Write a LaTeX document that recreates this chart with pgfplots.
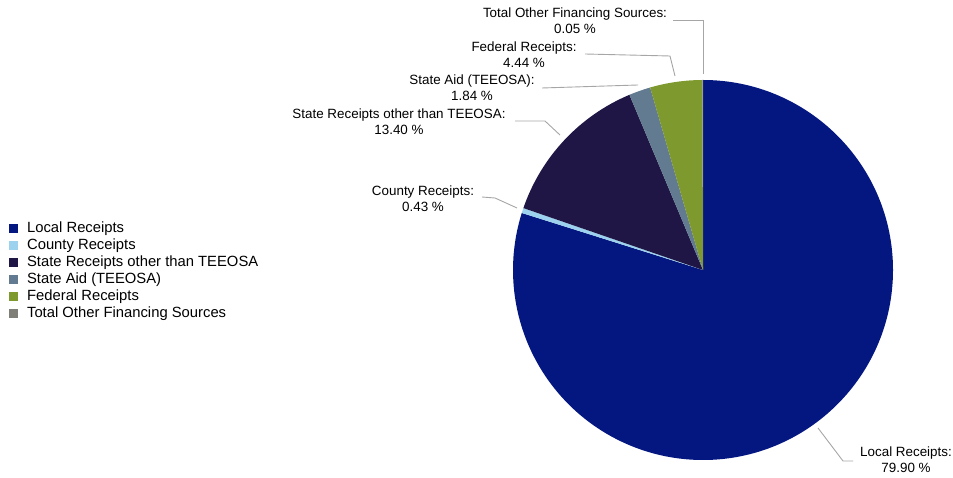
\documentclass[border=0pt]{standalone}
\usepackage{pgfplots}
\pgfplotsset{compat=1.18}
\usepackage{pgfplotstable}
\usepackage{fontspec}
\setmainfont{Liberation Sans}

\definecolor{cLocal}{HTML}{041680}
\definecolor{cCounty}{HTML}{9DD2EE}
\definecolor{cState}{HTML}{1F1645}
\definecolor{cAid}{HTML}{627B90}
\definecolor{cFed}{HTML}{7E9A2F}
\definecolor{cOther}{HTML}{7F7F78}
\definecolor{cLead}{HTML}{A6A6A6}

% share of each source, in %, clockwise from 12 o'clock
\pgfplotstableread{
pct   col
79.90 cLocal
0.43  cCounty
13.40 cState
1.84  cAid
4.44  cFed
0.05  cOther
}\piedata

\pgfplotsset{sq/.style={legend image code/.code={\fill[#1] (0bp,-4bp) rectangle (8bp,4bp);}}}

\newcommand\lab{\fontsize{13.4bp}{16bp}\selectfont}

\begin{document}
\begin{tikzpicture}
\begin{axis}[
    scale only axis,
    width=953bp, height=478bp,
    xmin=0, xmax=953, ymin=0, ymax=478,
    hide axis, clip=false,
    legend cell align=left,
    legend style={
        at={(axis cs:9,258)}, anchor=north west,
        draw=none, fill=none, inner sep=0pt,
        font=\fontsize{14.8bp}{17bp}\selectfont,
        row sep=0pt, column sep=8bp,
        nodes={inner sep=1.5bp, text height=11bp, text depth=3bp},
    },
]
\addlegendimage{sq=cLocal}  \addlegendentry{Local Receipts}
\addlegendimage{sq=cCounty} \addlegendentry{County Receipts}
\addlegendimage{sq=cState}  \addlegendentry{State Receipts other than TEEOSA}
\addlegendimage{sq=cAid}    \addlegendentry{State Aid (TEEOSA)}
\addlegendimage{sq=cFed}    \addlegendentry{Federal Receipts}
\addlegendimage{sq=cOther}  \addlegendentry{Total Other Financing Sources}

\pgfplotsextra{
    \path (axis cs:0,0) rectangle (axis cs:953,478);
    \gdef\pietotal{0}
    \foreach \i in {0,...,5} {
        \pgfplotstablegetelem{\i}{pct}\of\piedata
        \pgfmathsetmacro\tmp{\pietotal+\pgfplotsretval}
        \global\let\pietotal\tmp
    }
    \gdef\startang{90}
    \foreach \i in {0,...,5} {
        \pgfplotstablegetelem{\i}{pct}\of\piedata
        \pgfmathsetmacro\endang{\startang-\pgfplotsretval/\pietotal*360}
        \pgfplotstablegetelem{\i}{col}\of\piedata
        \fill[\pgfplotsretval] (axis cs:703,208) -- ++(\startang:190bp)
            arc[start angle=\startang, end angle=\endang, radius=190bp] -- cycle;
        \global\let\startang\endang
    }
    % leader lines
    \begin{scope}[cLead, line width=0.9bp]
    \draw (axis cs:673,458) -- (axis cs:703,458) -- (axis cs:703,404);
    \draw (axis cs:585,424) -- (axis cs:670,422) -- (axis cs:675,402);
    \draw (axis cs:542,390) -- (axis cs:638,393);
    \draw (axis cs:515,357) -- (axis cs:545,357) -- (axis cs:560,343);
    \draw (axis cs:482,281) -- (axis cs:495,280) -- (axis cs:517,270);
    \draw (axis cs:818,50) -- (axis cs:843,17) -- (axis cs:853,17);
    \end{scope}
    % slice labels
    \begin{scope}[every node/.style={align=center, inner sep=0pt, font=\lab}]
    \node at (axis cs:575,457) {Total Other Financing Sources:\\0.05 \%};
    \node at (axis cs:524,423.5) {Federal Receipts:\\4.44 \%};
    \node at (axis cs:472,390) {State Aid (TEEOSA):\\1.84 \%};
    \node at (axis cs:399,356) {State Receipts other than TEEOSA:\\13.40 \%};
    \node at (axis cs:423,279) {County Receipts:\\0.43 \%};
    \node at (axis cs:906,18) {Local Receipts:\\79.90 \%};
    \end{scope}
}
\end{axis}
\end{tikzpicture}
\end{document}
